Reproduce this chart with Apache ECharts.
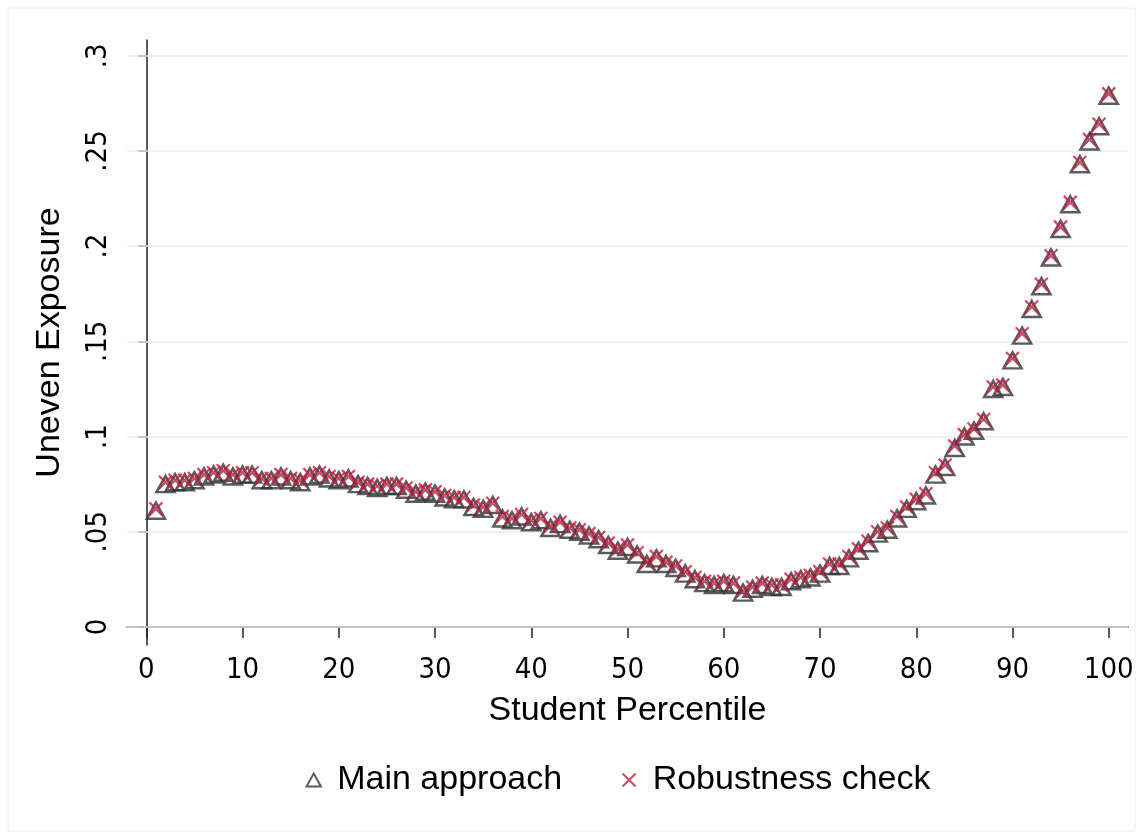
<!DOCTYPE html>
<html>
<head>
<meta charset="utf-8">
<script src="https://cdn.jsdelivr.net/npm/echarts@6/dist/echarts.min.js"></script>
<style>
html,body{margin:0;padding:0;background:#fff;}
#chart{width:1143px;height:839px;}
</style>
</head>
<body>
<div id="chart"></div>
<script>
// student percentile 1..100
var percentiles = [];
for (var i = 1; i <= 100; i++) { percentiles.push(i); }

var mainApproach = [
  0.061, 0.075, 0.076, 0.076, 0.077, 0.079, 0.080, 0.081, 0.079, 0.080,
  0.080, 0.077, 0.077, 0.079, 0.077, 0.076, 0.079, 0.080, 0.078, 0.077,
  0.078, 0.075, 0.074, 0.073, 0.074, 0.074, 0.072, 0.070, 0.071, 0.070,
  0.068, 0.067, 0.067, 0.063, 0.062, 0.064, 0.057, 0.056, 0.058, 0.055,
  0.056, 0.052, 0.054, 0.051, 0.050, 0.048, 0.046, 0.043, 0.040, 0.042,
  0.038, 0.033, 0.036, 0.033, 0.031, 0.028, 0.025, 0.023, 0.022, 0.023,
  0.022, 0.018, 0.020, 0.022, 0.021, 0.021, 0.024, 0.025, 0.026, 0.028,
  0.032, 0.032, 0.036, 0.040, 0.044, 0.049, 0.051, 0.057, 0.062, 0.066,
  0.069, 0.080, 0.084, 0.094, 0.100, 0.103, 0.108, 0.125, 0.126, 0.140,
  0.153, 0.167, 0.179, 0.194, 0.209, 0.222, 0.243, 0.255, 0.263, 0.279
];

var robustnessCheck = [
  0.062, 0.076, 0.077, 0.077, 0.078, 0.080, 0.081, 0.082, 0.080, 0.081,
  0.081, 0.078, 0.078, 0.080, 0.078, 0.077, 0.080, 0.081, 0.079, 0.078,
  0.079, 0.076, 0.075, 0.074, 0.075, 0.075, 0.073, 0.071, 0.072, 0.071,
  0.069, 0.068, 0.068, 0.064, 0.063, 0.065, 0.058, 0.057, 0.059, 0.056,
  0.057, 0.053, 0.055, 0.052, 0.051, 0.049, 0.047, 0.044, 0.041, 0.043,
  0.039, 0.034, 0.037, 0.034, 0.032, 0.029, 0.026, 0.024, 0.023, 0.024,
  0.023, 0.019, 0.021, 0.023, 0.022, 0.022, 0.025, 0.026, 0.027, 0.029,
  0.033, 0.033, 0.037, 0.041, 0.045, 0.050, 0.052, 0.058, 0.063, 0.067,
  0.070, 0.081, 0.085, 0.095, 0.101, 0.104, 0.109, 0.126, 0.127, 0.141,
  0.154, 0.168, 0.180, 0.195, 0.210, 0.223, 0.244, 0.256, 0.264, 0.280
];

var xTicks = [0, 10, 20, 30, 40, 50, 60, 70, 80, 90, 100];
var yTicks = [0, 0.05, 0.1, 0.15, 0.2, 0.25, 0.3];
var yTickLabels = ['0', '.05', '.1', '.15', '.2', '.25', '.3'];

var FONT = '"Liberation Sans", Arial, Helvetica, sans-serif';
var NARROW = '"Liberation Sans Narrow", "DejaVu Sans Condensed", "Liberation Sans", sans-serif';

function pairs(ys) {
  var out = [];
  ys.forEach(function (v, idx) { out.push([percentiles[idx], v]); });
  return out;
}

var chart = echarts.init(document.getElementById('chart'));
var option = {
  backgroundColor: '#fff',
  animation: false,
  textStyle: { fontFamily: FONT },
  graphic: [{
    type: 'rect',
    shape: { x: 8, y: 8, width: 1127, height: 823 },
    style: { fill: 'none', stroke: '#eeeeee', lineWidth: 1 },
    silent: true
  }],
  grid: { left: 127, right: 15, top: 40, bottom: 194 },
  legend: {
    left: 299,
    top: 758,
    itemGap: 58,
    itemWidth: 15,
    itemHeight: 13,
    textStyle: { fontSize: 34, color: '#000', fontFamily: FONT, padding: [0, 0, 0, 11] },
    data: ['Main approach', 'Robustness check']
  },
  xAxis: {
    type: 'value',
    min: -2,
    max: 102,
    name: 'Student Percentile',
    nameLocation: 'middle',
    nameGap: 49,
    nameTextStyle: { fontSize: 34, color: '#000', fontFamily: FONT },
    axisLine: { show: true, lineStyle: { color: '#222', width: 1.5 } },
    axisTick: { show: true, length: 11, customValues: xTicks, lineStyle: { color: '#222', width: 1.5 } },
    axisLabel: { customValues: xTicks, fontSize: 29, color: '#000', margin: 11, fontFamily: NARROW },
    splitLine: { show: false }
  },
  yAxis: {
    type: 'value',
    min: -0.0095,
    max: 0.3083,
    name: 'Uneven Exposure',
    nameLocation: 'middle',
    nameRotate: 90,
    nameGap: 60,
    nameTextStyle: { fontSize: 34, color: '#000', fontFamily: FONT },
    axisLine: { show: true, lineStyle: { color: '#222', width: 1.5 } },
    axisTick: { show: true, length: 8, customValues: yTicks, lineStyle: { color: '#222', width: 1.5 } },
    axisLabel: {
      customValues: yTicks,
      rotate: 90,
      fontSize: 29,
      color: '#000',
      margin: 14,
      fontFamily: NARROW,
      formatter: function (v) {
        var k = yTicks.indexOf(Math.round(v * 100) / 100);
        return k >= 0 ? yTickLabels[k] : '';
      }
    },
    splitLine: { show: false }
  },
  series: [
    {
      name: 'Main approach',
      type: 'scatter',
      symbol: 'path://M5,0L10,9L0,9Z',
      symbolSize: [18, 16],
      itemStyle: { color: 'none', borderColor: '#333333', borderWidth: 2.6 },
      data: pairs(mainApproach),
      z: 3,
      markLine: {
        silent: true,
        symbol: ['none', 'none'],
        label: { show: false },
        lineStyle: { color: '#e4edf0', width: 1.5, type: 'solid' },
        data: yTicks.map(function (t) { return { yAxis: t }; }),
        z: 1
      }
    },
    {
      name: 'Robustness check',
      type: 'scatter',
      symbol: 'path://M0,0L10,10M10,0L0,10',
      symbolSize: 13,
      itemStyle: { color: 'none', borderColor: '#c81a40', borderWidth: 2.2 },
      data: pairs(robustnessCheck),
      z: 4
    }
  ]
};
chart.setOption(option);
</script>
</body>
</html>
